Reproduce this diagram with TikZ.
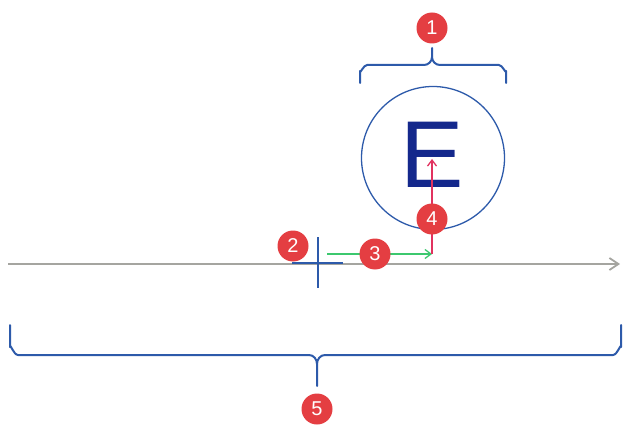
\documentclass[tikz,border=0pt]{standalone}
\usepackage{fontspec}
\setmainfont{Liberation Sans}
\usetikzlibrary{arrows.meta}
\definecolor{badgered}{RGB}{228,62,66}
\definecolor{bracketblue}{RGB}{45,90,170}
\definecolor{navyE}{RGB}{20,40,140}
\definecolor{axisgray}{RGB}{165,165,160}
\definecolor{arrgreen}{RGB}{60,200,110}
\definecolor{arrred}{RGB}{225,50,95}
\tikzset{
  badge/.style={circle,fill=badgered,text=white,minimum size=31pt,inner sep=0pt,font=\fontsize{20}{20}\selectfont},
  brace/.style={draw=bracketblue,line width=2pt,line join=round,line cap=round},
}
\begin{document}
\begin{tikzpicture}[x=1pt,y=-1pt]
\useasboundingbox (0,0) rectangle (624,425);
% axis
\coordinate (axL) at (8,264);
\coordinate (axR) at (620,264);
\draw[axisgray,line width=2.6pt,-{Straight Barb[length=9pt,width=12pt,line width=1.8pt]}] (axL) -- (axR);
% circle with E
\node[circle,draw=bracketblue,line width=1.3pt,minimum size=143pt,inner sep=0pt] (circ) at (433,158) {};
\node[text=navyE,font=\fontsize{95}{95}\selectfont,inner sep=0pt] (E) at (432,155) {E};
% top brace
\draw[brace] (360,83) -- (360,71) to[out=-90,in=180] (367,65) -- (424,65) to[out=0,in=-90] (432,57) -- (432,48);
\draw[brace] (506,83) -- (506,71) to[out=-90,in=0] (499,65) -- (440,65) to[out=180,in=-90] (432,57);
\node[badge] (b1) at (432,28) {1};
% cross
\coordinate (cxL) at (292,263);
\coordinate (cxR) at (343,263);
\coordinate (cyT) at (318,237);
\coordinate (cyB) at (318,288);
\draw[bracketblue,line width=1.5pt] (cxL) -- (cxR);
\draw[bracketblue,line width=1.5pt] (cyT) -- (cyB);
% arrows
\coordinate (gS) at (327,254);
\coordinate (corner) at (432,254);
\coordinate (rT) at (432,159);
\draw[arrgreen,line width=1.3pt,-{Straight Barb[length=6pt,width=9pt]}] (gS) -- (corner);
\draw[arrred,line width=1.3pt,-{Straight Barb[length=6pt,width=9pt]}] (corner) -- (rT);
\node[badge] (b2) at (293,246) {2};
\node[badge] (b3) at (375,254) {3};
\node[badge] (b4) at (432,219) {4};
% bottom brace
\draw[brace] (10,325) -- (10,347) to[out=90,in=180] (18,355) -- (309,355) to[out=0,in=90] (317,364) -- (317,386);
\draw[brace] (621,325) -- (621,347) to[out=90,in=0] (613,355) -- (325,355) to[out=180,in=90] (317,364);
\node[badge] (b5) at (317,409) {5};
\end{tikzpicture}
\end{document}
